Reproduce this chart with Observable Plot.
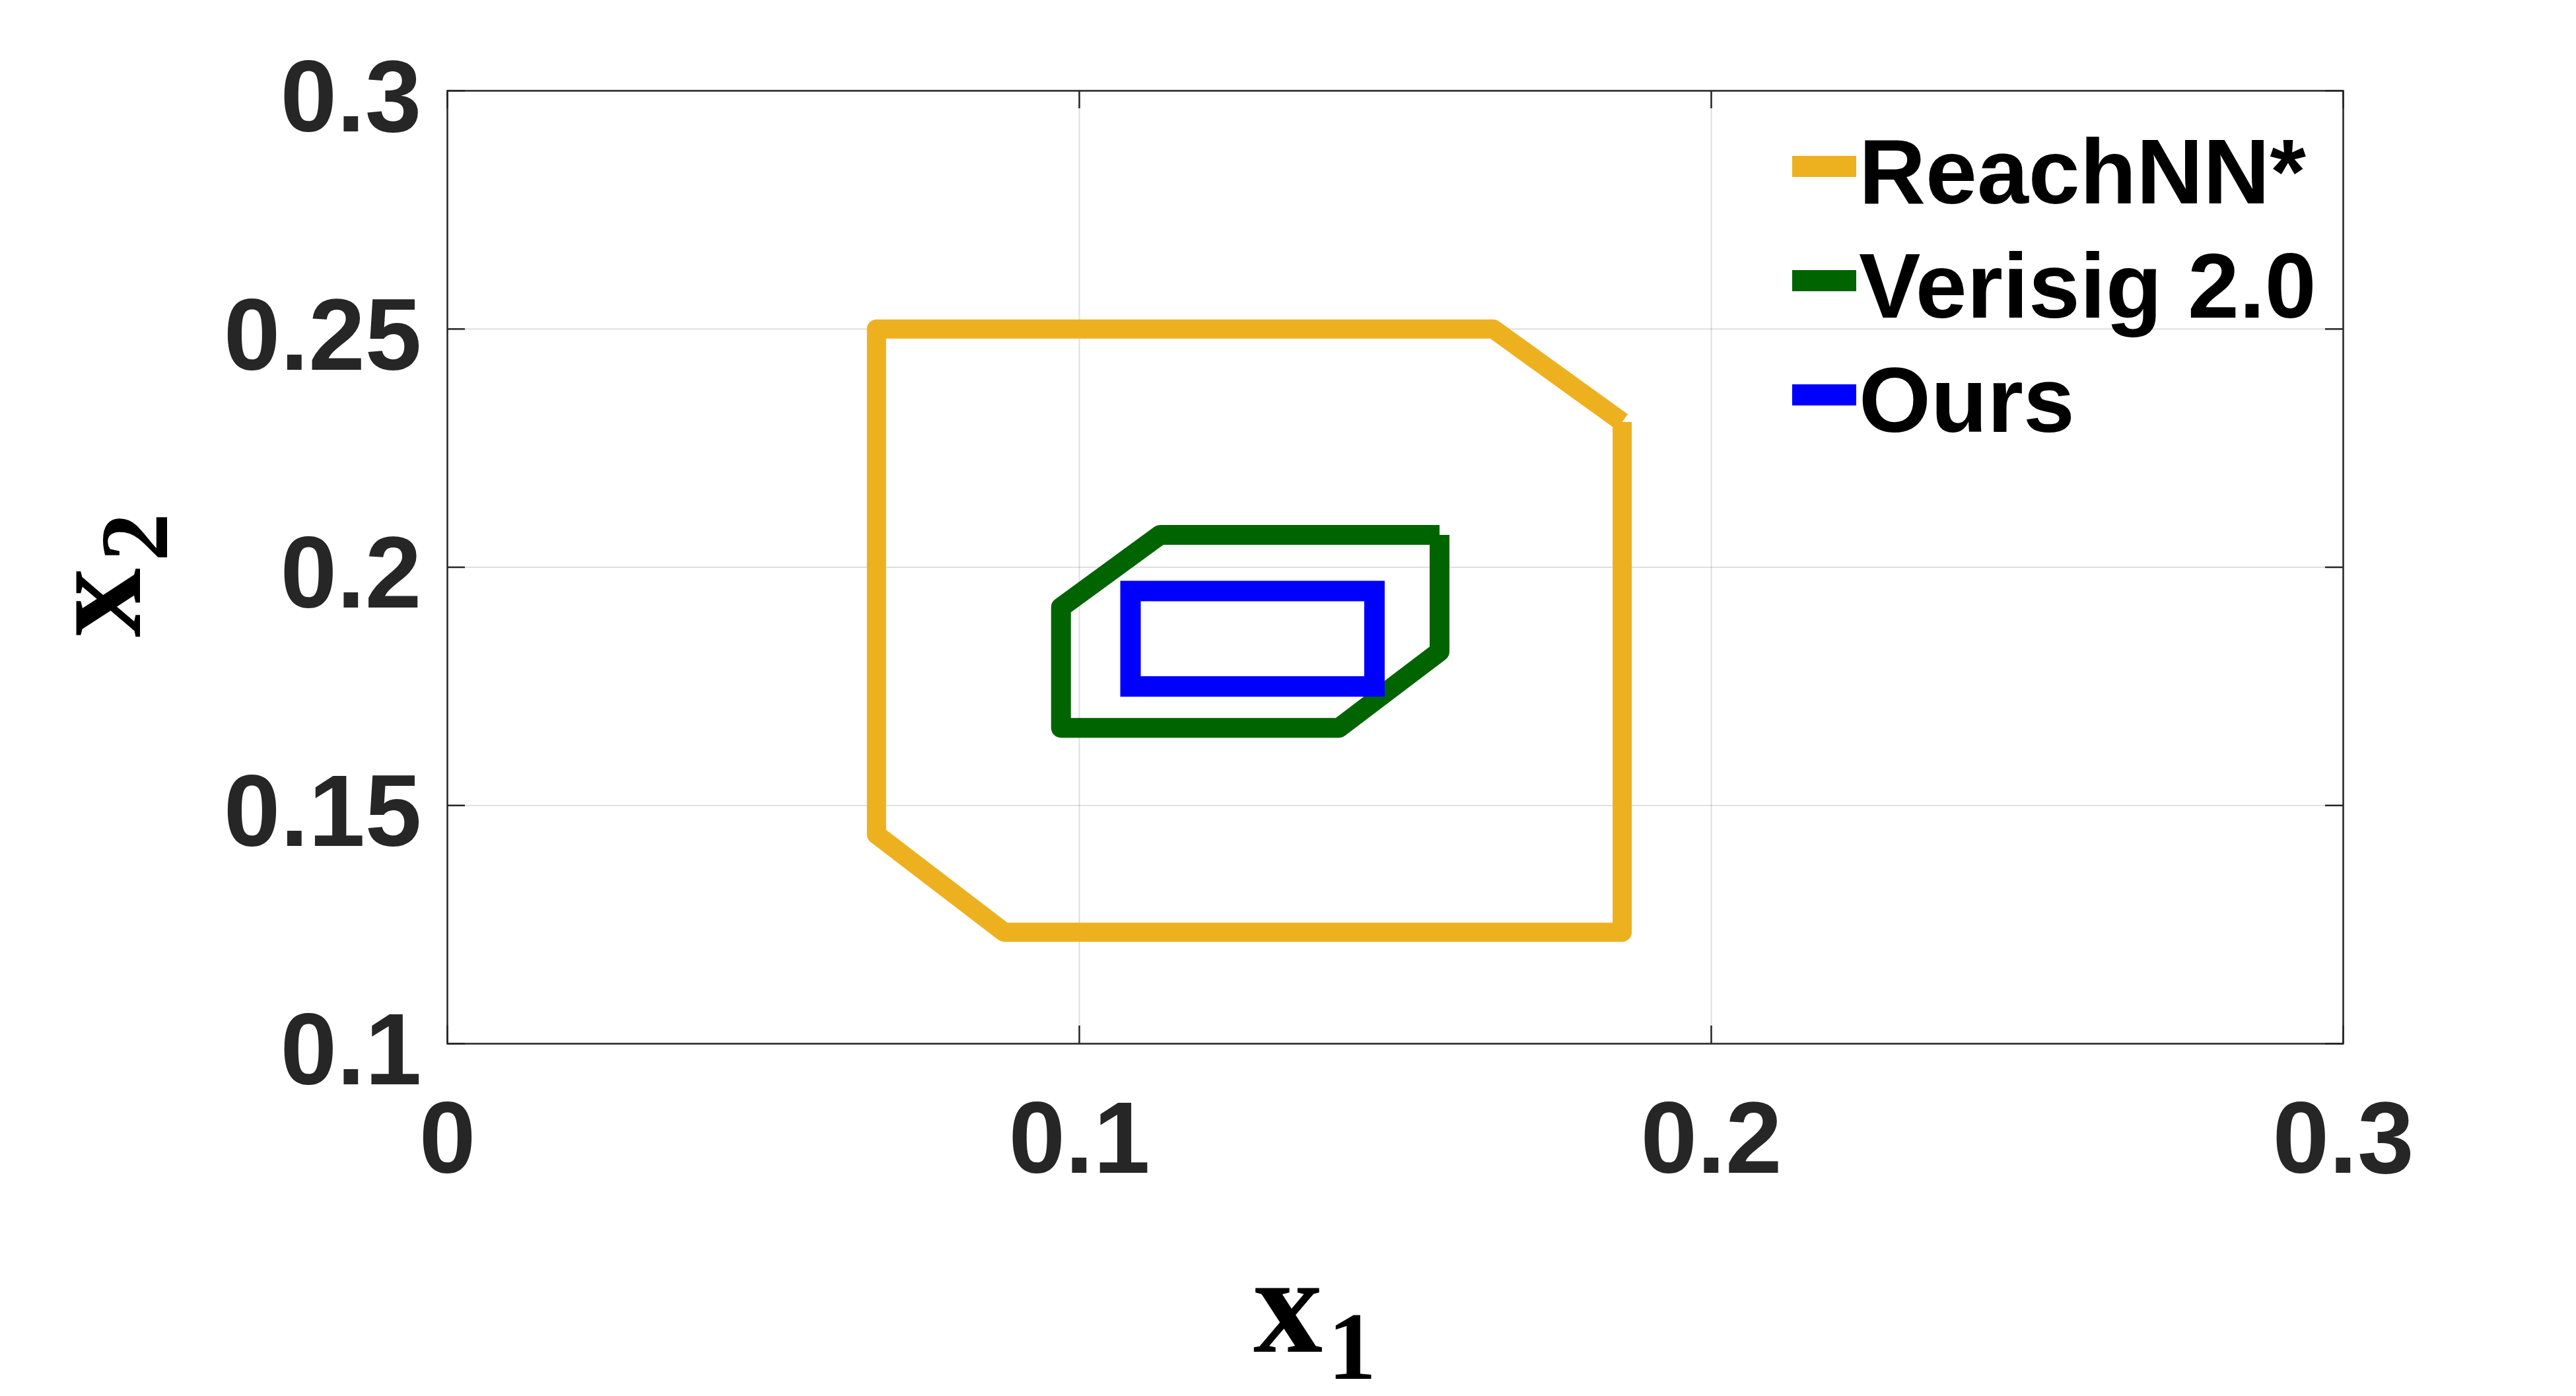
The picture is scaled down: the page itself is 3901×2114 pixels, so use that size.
<!DOCTYPE html>
<html>
<head>
<meta charset="utf-8">
<script src="https://cdn.jsdelivr.net/npm/d3@7"></script>
<script src="https://cdn.jsdelivr.net/npm/@observablehq/plot@0.6"></script>
<style>
  html, body { margin: 0; padding: 0; background: #ffffff; }
  svg { display: block; }
</style>
</head>
<body>
<div id="chart"></div>
<script>
// ---- Data ----
const xTicks = [0, 0.1, 0.2, 0.3];
const xTickLabels = ["0", "0.1", "0.2", "0.3"];
const yTicks = [0.1, 0.15, 0.2, 0.25, 0.3];
const yTickLabels = ["0.1", "0.15", "0.2", "0.25", "0.3"];

const seriesNames = ["ReachNN*", "Verisig 2.0", "Ours"];
const seriesColors = ["#EDB120", "#006400", "#0000FF"];

// ReachNN* reachable-set boundary (x1, x2)
const reachX = [0.1859, 0.1859, 0.0881, 0.0679, 0.0679, 0.1655, 0.1859];
const reachY = [0.2305, 0.1234, 0.1234, 0.1439, 0.2500, 0.2500, 0.2305];

// Verisig 2.0 reachable-set boundary
const verisigX = [0.1570, 0.1570, 0.1411, 0.0971, 0.0971, 0.1128, 0.1570];
const verisigY = [0.2068, 0.1823, 0.1663, 0.1663, 0.1916, 0.2068, 0.2068];

// Ours reachable-set boundary
const oursX = [0.1081, 0.1467, 0.1467, 0.1081];
const oursY = [0.1950, 0.1950, 0.1750, 0.1750];

const toRows = (xs, ys, name) => xs.map((x, i) => ({series: name, x, y: ys[i]}));
const reachRows = toRows(reachX, reachY, seriesNames[0]);
const verisigRows = toRows(verisigX, verisigY, seriesNames[1]);
const oursRows = toRows(oursX, oursY, seriesNames[2]);

// ---- Layout ----
const W = 3901, H = 2114;
const mL = 677, mR = 353, mT = 137, mB = 534;
const plotH = H - mT - mB;
const plotW = W - mL - mR;
const tickLen = 27;
const axisColor = "#262626";
const tickFont = "'Liberation Sans', Arial, Helvetica, sans-serif";
const labelFont = "'Liberation Serif', 'Times New Roman', serif";

const chart = Plot.plot({
  width: W,
  height: H,
  marginLeft: mL,
  marginRight: mR,
  marginTop: mT,
  marginBottom: mB,
  style: {background: "#ffffff", overflow: "visible"},
  x: {domain: [0, 0.3], label: null},
  y: {domain: [0.1, 0.3], label: null},
  marks: [
    Plot.gridX(xTicks, {stroke: axisColor, strokeOpacity: 0.15, strokeWidth: 2}),
    Plot.gridY(yTicks, {stroke: axisColor, strokeOpacity: 0.15, strokeWidth: 2}),
    // inward ticks on all four sides
    Plot.tickX(xTicks, {x: d => d, insetTop: plotH - tickLen, stroke: axisColor, strokeWidth: 2.5}),
    Plot.tickX(xTicks, {x: d => d, insetBottom: plotH - tickLen, stroke: axisColor, strokeWidth: 2.5}),
    Plot.tickY(yTicks, {y: d => d, insetRight: plotW - tickLen, stroke: axisColor, strokeWidth: 2.5}),
    Plot.tickY(yTicks, {y: d => d, insetLeft: plotW - tickLen, stroke: axisColor, strokeWidth: 2.5}),
    Plot.frame({stroke: axisColor, strokeWidth: 2.5}),
    Plot.axisX(xTicks, {
      anchor: "bottom", tickSize: 0, tickPadding: 86, label: null,
      tickFormat: d => xTickLabels[xTicks.indexOf(d)],
      fontSize: 154, fontWeight: "bold", fontFamily: tickFont, color: axisColor
    }),
    Plot.axisY(yTicks, {
      anchor: "left", tickSize: 0, tickPadding: 39, label: null, dy: 12,
      tickFormat: d => yTickLabels[yTicks.indexOf(d)],
      fontSize: 154, fontWeight: "bold", fontFamily: tickFont, color: axisColor
    }),
    Plot.line(reachRows, {x: "x", y: "y", stroke: seriesColors[0], strokeWidth: 29,
      strokeLinejoin: "round", strokeLinecap: "butt"}),
    Plot.line(verisigRows, {x: "x", y: "y", stroke: seriesColors[1], strokeWidth: 30,
      strokeLinejoin: "round", strokeLinecap: "butt"}),
    Plot.line(oursRows, {x: "x", y: "y", stroke: seriesColors[2], strokeWidth: 31,
      curve: "linear-closed", strokeLinejoin: "miter", strokeMiterlimit: 4})
  ]
});

document.getElementById("chart").appendChild(chart);

const svg = d3.select(chart);

// ---- Legend (inside the axes, top right) ----
const legend = svg.append("g").attr("class", "legend").attr("text-anchor", "start");
const rowStep = 173;
seriesNames.forEach((name, i) => {
  legend.append("line")
    .attr("x1", 2714).attr("x2", 2811)
    .attr("y1", 252 + i * rowStep).attr("y2", 252 + i * rowStep)
    .attr("stroke", seriesColors[i]).attr("stroke-width", 32);
  legend.append("text")
    .attr("x", 2815).attr("y", 308 + i * rowStep)
    .attr("text-anchor", "start")
    .attr("font-family", tickFont).attr("font-weight", "bold")
    .attr("font-size", 140).attr("fill", "#000000")
    .text(name);
});

// ---- Axis labels ----
const xl = svg.append("text")
  .attr("x", 1898).attr("y", 2047)
  .attr("text-anchor", "start")
  .attr("font-family", labelFont).attr("font-weight", "bold")
  .attr("font-size", 210).attr("fill", "#000000");
xl.append("tspan").text("x");
xl.append("tspan").attr("font-size", 146).attr("dx", 8).attr("dy", 41).text("1");

const yl = svg.append("text")
  .attr("transform", "translate(212,965) rotate(-90)")
  .attr("text-anchor", "start")
  .attr("font-family", labelFont).attr("font-weight", "bold")
  .attr("font-size", 210).attr("fill", "#000000");
yl.append("tspan").text("x");
yl.append("tspan").attr("font-size", 146).attr("dx", 10).attr("dy", 41).text("2");
</script>
</body>
</html>
